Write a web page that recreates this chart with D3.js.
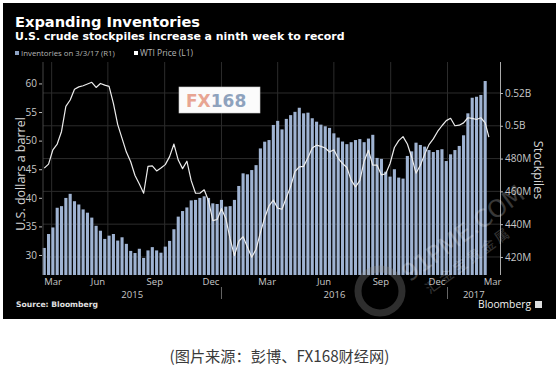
<!doctype html>
<html lang="zh">
<head>
    <meta charset="utf-8"/>
    <title>Expanding Inventories</title>
    <script src="https://d3js.org/d3.v7.min.js"></script>
    <style>
        body { margin: 0; padding: 0; background: #fff; }
        svg { display: block; }
    </style>
</head>
<body>
<script>
    // semanal, viernes, desde 2015-03-20 hasta 2017-03-03 (millones de barriles)
    const firstWeek = new Date(2015, 2, 20);
    const inventories = [
        425.5, 434, 438, 450, 451, 456, 458.5, 454, 452, 449,
        447, 444, 439, 436, 431, 433, 434, 430, 432, 428,
        423.7, 422.4, 425, 419.4, 424, 426, 424, 422.6, 426.3, 429.8,
        436.9, 444.6, 448, 450.2, 454.5, 454.8, 456, 457, 456, 452.7,
        452.3, 454.8, 450.7, 451, 454.8, 463.3, 471, 470.4, 473, 476,
        486.2, 490.3, 491.3, 500.5, 503, 497.8, 504.2, 506.5, 508.5, 511,
        507.6, 508, 504.6, 502.5, 500.7, 499.7, 498.7, 495.4, 492.8, 490.4,
        488.8, 490, 491.3, 491.9, 490, 492.2, 494.5, 480.4, 479.8, 472,
        469, 473.5, 468.4, 467.8, 481.6, 484.4, 489.7, 488.3, 487.3, 485.2,
        484, 485.2, 485.7, 478.5, 482.6, 485.2, 487.7, 494.2, 507.6, 517.1,
        517.7, 518.8, 527.3
    ];
    // WTI (USD/barril), mismas semanas
    const wti = [
        45.2, 45.9, 48.4, 49.4, 51.6, 56.0, 57.1, 59.0, 59.4, 59.6,
        59.9, 60.2, 59.3, 60.0, 59.7, 59.5, 56.5, 52.8, 50.4, 48.0,
        46.3, 43.9, 42.4, 40.8, 45.5, 45.6, 44.7, 45.2, 45.8, 47.2,
        49.4, 46.6, 45.1, 46.4, 43.0, 40.8, 40.8, 41.4, 39.5, 36.0,
        36.2, 38.1, 36.4, 32.8, 29.9, 32.4, 33.2, 31.4, 29.6, 31.0,
        33.9, 36.5, 38.6, 39.6, 38.2, 38.0, 40.0, 42.0, 44.6, 45.4,
        45.5, 47.0, 48.7, 49.2, 49.0, 48.7, 48.0, 48.4, 46.9, 46.0,
        45.3, 43.1, 41.9, 43.0, 46.4, 48.3, 45.7, 45.7, 44.0, 44.2,
        46.0, 48.8, 50.0, 50.7, 49.4, 47.1, 44.3, 45.7, 47.6, 49.3,
        50.3, 51.6, 52.6, 53.5, 53.9, 52.6, 52.7, 53.1, 54.0, 53.9,
        53.7, 54.0, 53.1
    ];
    const wtiEndDate = new Date(2017, 2, 9);
    const wtiEndValue = 50.6;

    const leftTicks = [30, 35, 40, 45, 50, 55, 60];
    const rightTicks = [420, 440, 460, 480, 500, 520];
    const rightTickLabels = ["420M", "440M", "460M", "480M", "0.5B", "0.52B"];
    const monthTickDates = ["2015-03-15", "2015-06-15", "2015-09-15", "2015-12-15",
        "2016-03-15", "2016-06-15", "2016-09-15", "2016-12-15", "2017-03-15"];
    const monthTickLabels = ["Mar", "Jun", "Sep", "Dec", "Mar", "Jun", "Sep", "Dec", "Mar"];
    const years = ["2015", "2016", "2017"];
    const gridDates = ["2015-04-01", "2015-07-01", "2015-10-01", "2016-01-01", "2016-04-01",
        "2016-07-01", "2016-10-01", "2017-01-01"];

    const W = 559, H = 373;
    const pLeft = 43, pRight = 500, pTop = 62, pBottom = 275;
    const parse = d3.timeParse("%Y-%m-%d");

    const weeks = inventories.map((d, i) => d3.timeDay.offset(firstWeek, 7 * i));

    const x = d3.scaleTime()
        .domain([new Date(2015, 2, 18), new Date(2017, 2, 27)])
        .range([pLeft, pRight]);
    const yL = d3.scaleLinear().domain([26.5, 63.75]).range([pBottom, pTop]);
    const yR = d3.scaleLinear().domain([409, 538.9]).range([pBottom, pTop]);

    const svg = d3.select("body").append("svg")
        .attr("width", W)
        .attr("height", H);

    // fondo negro de bloomberg
    svg.append("rect")
        .attr("x", 3).attr("y", 3)
        .attr("width", 553).attr("height", 316)
        .attr("fill", "#000");

    // ajusta el tamaño de fuente al ancho que se ve en la imagen
    function fit(sel, width) {
        const len = sel.node().getComputedTextLength();
        const fs = parseFloat(sel.attr("font-size"));
        sel.attr("font-size", (fs * width / len).toFixed(2));
    }

    const title = svg.append("text")
        .attr("x", 15).attr("y", 27)
        .attr("font-family", "DejaVu Sans").attr("font-weight", "bold")
        .attr("font-size", 14).attr("fill", "#fff")
        .text("Expanding Inventories");
    fit(title, 185);

    const subtitle = svg.append("text")
        .attr("x", 15).attr("y", 40)
        .attr("font-family", "DejaVu Sans").attr("font-weight", "bold")
        .attr("font-size", 11).attr("fill", "#fff")
        .text("U.S. crude stockpiles increase a ninth week to record");
    fit(subtitle, 330);

    // leyenda
    svg.append("rect").attr("x", 15).attr("y", 51).attr("width", 4).attr("height", 4).attr("fill", "#8ea3c4");
    const lg1 = svg.append("text").attr("x", 21).attr("y", 56)
        .attr("font-family", "Open Sans").attr("font-size", 8.5).attr("fill", "#b5b5b5")
        .text("Inventories on 3/3/17 (R1)");
    fit(lg1, 94);
    svg.append("rect").attr("x", 134).attr("y", 51).attr("width", 4).attr("height", 4).attr("fill", "#fff");
    const lg2 = svg.append("text").attr("x", 140).attr("y", 56)
        .attr("font-family", "Open Sans").attr("font-size", 8.5).attr("fill", "#b5b5b5")
        .text("WTI Price (L1)");
    fit(lg2, 53);

    // grilla
    const grid = svg.append("g").attr("stroke", "#2c2c2c").attr("stroke-width", 1);
    grid.selectAll("line.v").data(gridDates).enter().append("line")
        .attr("x1", d => x(parse(d))).attr("x2", d => x(parse(d)))
        .attr("y1", pTop).attr("y2", pBottom);
    grid.selectAll("line.h").data(rightTicks).enter().append("line")
        .attr("x1", pLeft).attr("x2", pRight)
        .attr("y1", d => yR(d)).attr("y2", d => yR(d));

    // barras de inventarios
    const barW = 3.1;
    svg.append("g").selectAll("rect").data(inventories).enter().append("rect")
        .attr("x", (d, i) => x(weeks[i]) - barW / 2)
        .attr("width", barW)
        .attr("y", d => yR(d))
        .attr("height", d => pBottom - yR(d))
        .attr("fill", "#9fb3d2");

    // linea WTI
    const wtiPoints = wti.map((v, i) => ({date: weeks[i], value: v}));
    wtiPoints.push({date: wtiEndDate, value: wtiEndValue});
    svg.append("path")
        .datum(wtiPoints)
        .attr("fill", "none")
        .attr("stroke", "#ececec")
        .attr("stroke-width", 1.2)
        .attr("stroke-linejoin", "round")
        .attr("d", d3.line().x(d => x(d.date)).y(d => yL(d.value)));

    // eje izquierdo
    svg.append("line").attr("x1", pLeft).attr("x2", pLeft).attr("y1", pTop).attr("y2", pBottom)
        .attr("stroke", "#555").attr("stroke-width", 0.8);
    const gL = svg.append("g")
        .attr("transform", `translate(${pLeft - 1},0)`)
        .call(d3.axisLeft(yL).tickValues(leftTicks).tickSize(3).tickPadding(2));
    gL.select(".domain").remove();
    gL.selectAll("line").attr("stroke", "#bbb");
    gL.selectAll("text").attr("fill", "#c8c8c8").attr("font-family", "Open Sans").attr("font-size", 10);

    // eje derecho
    const gR = svg.append("g")
        .attr("transform", `translate(${pRight},0)`)
        .call(d3.axisRight(yR).tickValues(rightTicks).tickFormat((d, i) => rightTickLabels[i])
            .tickSize(3).tickPadding(2));
    gR.select(".domain").attr("stroke", "#aaa").attr("d", `M0.5,${pTop}V${pBottom}`);
    gR.selectAll("line").attr("stroke", "#bbb");
    gR.selectAll("text").attr("fill", "#c8c8c8").attr("font-family", "Open Sans").attr("font-size", 10);

    // eje x: meses y años
    svg.append("g").selectAll("text").data(monthTickDates).enter().append("text")
        .attr("x", d => Math.max(x(parse(d)), pLeft + 10))
        .attr("y", 285)
        .attr("text-anchor", "middle")
        .attr("fill", "#c8c8c8").attr("font-family", "Open Sans").attr("font-size", 9.5)
        .text((d, i) => monthTickLabels[i]);

    const yearBounds = [x.domain()[0], new Date(2016, 0, 1), new Date(2017, 0, 1), x.domain()[1]];
    svg.append("g").selectAll("text").data(years).enter().append("text")
        .attr("x", (d, i) => (x(yearBounds[i]) + x(yearBounds[i + 1])) / 2)
        .attr("y", 297.5)
        .attr("text-anchor", "middle")
        .attr("fill", "#c8c8c8").attr("font-family", "Open Sans").attr("font-size", 9.5)
        .text(d => d);
    svg.append("g").selectAll("line").data(yearBounds.slice(1, 3)).enter().append("line")
        .attr("x1", d => x(d)).attr("x2", d => x(d))
        .attr("y1", 287).attr("y2", 299)
        .attr("stroke", "#666");

    // titulos de ejes
    svg.append("text")
        .attr("transform", "translate(25,174) rotate(-90)")
        .attr("text-anchor", "middle")
        .attr("fill", "#d6d6d6").attr("font-family", "Open Sans").attr("font-size", 12.5)
        .text("U.S. dollars a barrel");
    svg.append("text")
        .attr("transform", "translate(534,170) rotate(90)")
        .attr("text-anchor", "middle")
        .attr("fill", "#d6d6d6").attr("font-family", "Open Sans").attr("font-size", 12.5)
        .text("Stockpiles");

    // pie
    const src = svg.append("text").attr("x", 16).attr("y", 307)
        .attr("font-family", "DejaVu Sans").attr("font-weight", "bold")
        .attr("font-size", 8).attr("fill", "#e0e0e0")
        .text("Source: Bloomberg");
    fit(src, 82);
    const bb = svg.append("text").attr("x", 478).attr("y", 308)
        .attr("font-family", "Open Sans").attr("font-size", 12).attr("fill", "#f2f2f2")
        .text("Bloomberg");
    fit(bb, 53);
    svg.append("rect").attr("x", 535).attr("y", 301).attr("width", 7).attr("height", 7)
        .attr("fill", "#ddd");

    // marcas de agua
    const fx = svg.append("g");
    fx.append("rect").attr("x", 179).attr("y", 87).attr("width", 81).attr("height", 26)
        .attr("fill", "#fbfbfb").attr("stroke", "#ccc").attr("stroke-width", 0.6);
    const fxText = fx.append("text").attr("x", 186).attr("y", 107)
        .attr("font-family", "DejaVu Sans").attr("font-weight", "bold").attr("font-size", 17);
    fxText.append("tspan").attr("fill", "#e8a592").text("FX");
    fxText.append("tspan").attr("fill", "#8ea2bd").text("168");

    svg.append("circle").attr("cx", 380).attr("cy", 291).attr("r", 22)
        .attr("fill", "none").attr("stroke", "#999").attr("stroke-width", 7).attr("opacity", 0.3);
    svg.append("text")
        .attr("transform", "translate(468,240) rotate(-36)")
        .attr("text-anchor", "middle")
        .attr("font-family", "DejaVu Sans").attr("font-size", 24)
        .attr("fill", "#fff").attr("opacity", 0.22)
        .text("91PME.COM");
    svg.append("text")
        .attr("transform", "translate(470,265) rotate(-36)")
        .attr("text-anchor", "middle")
        .attr("font-family", "Noto Sans CJK SC").attr("font-size", 14)
        .attr("fill", "#fff").attr("opacity", 0.2)
        .text("汇 金 宝   贵 金 属");

    // fuente de la imagen
    const cap = svg.append("text").attr("x", W / 2).attr("y", 362)
        .attr("text-anchor", "middle")
        .attr("font-family", "Noto Sans CJK SC").attr("font-size", 14).attr("fill", "#3a3a3a")
        .text("(图片来源：彭博、FX168财经网)");
    fit(cap, 220);
</script>
</body>
</html>
